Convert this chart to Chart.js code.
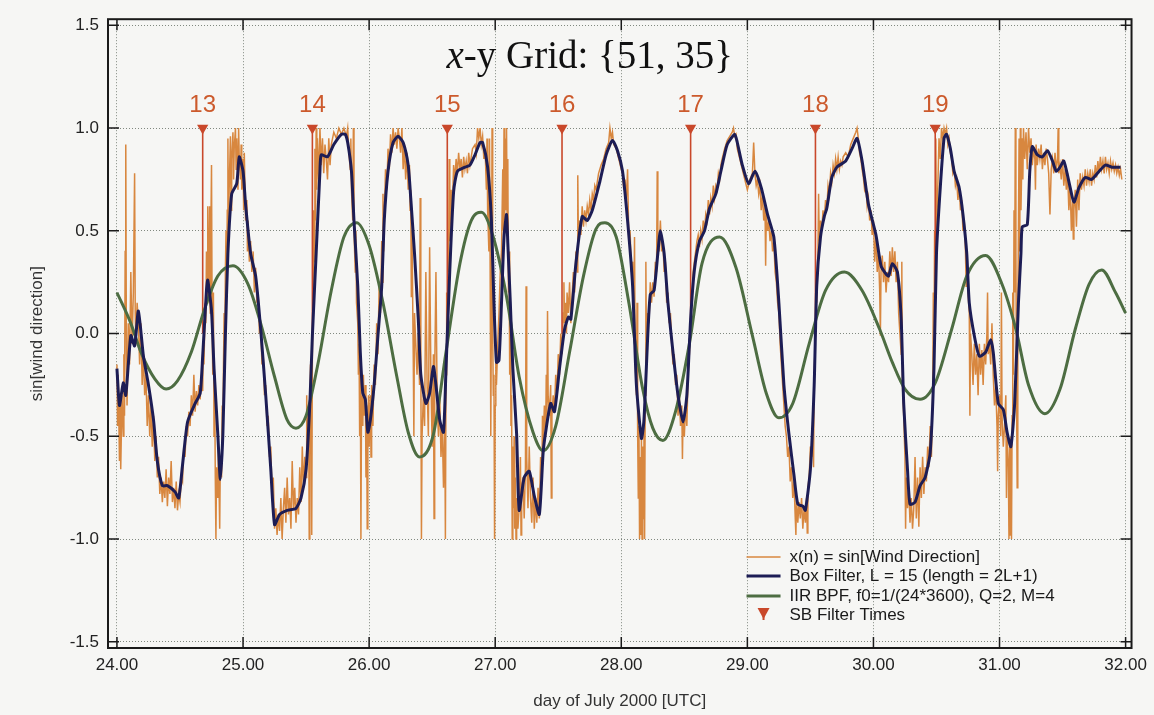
<!DOCTYPE html>
<html>
<head>
<meta charset="utf-8">
<script src="https://cdn.jsdelivr.net/npm/chart.js@4/dist/chart.umd.min.js"></script>
<style>
html, body { margin: 0; padding: 0; background: #f6f6f4; }
#wrap { width: 1154px; height: 715px; }
</style>
</head>
<body>
<div id="wrap"><canvas id="chart"></canvas></div>
<script>
// axis ticks
const xTicks = [24, 25, 26, 27, 28, 29, 30, 31, 32];
const yTicks = [-1.5, -1.0, -0.5, 0.0, 0.5, 1.0, 1.5];

// sea breeze filter times (day, label)
const sbTimes = [24.68, 25.55, 26.62, 27.53, 28.55, 29.54, 30.49];
const sbLabels = ['13', '14', '15', '16', '17', '18', '19'];

// x(n) = sin[wind direction]
const rawSignal = [
[24.00,-0.15],[24.005,-0.45],[24.01,-0.20],[24.02,-0.62],[24.025,-0.35],[24.03,-0.66],[24.04,-0.30],[24.05,-0.50],[24.055,-0.10],[24.06,-0.40],[24.065,0.40],[24.07,0.92],[24.075,-0.10],[24.08,-0.35],[24.09,0.05],[24.10,-0.15],[24.11,0.30],[24.12,-0.05],[24.13,0.20],[24.14,0.78],[24.145,0.10],[24.15,-0.05],[24.16,0.15],[24.17,0.05],[24.18,-0.15],[24.19,0.05],[24.20,-0.25],[24.21,-0.10],[24.22,-0.30],[24.23,-0.20],[24.24,-0.45],[24.25,-0.30],
[24.26,-0.50],[24.27,-0.35],[24.28,-0.55],[24.29,-0.40],[24.30,-0.62],[24.31,-0.50],[24.32,-0.70],[24.33,-0.60],[24.34,-0.78],[24.35,-0.70],[24.36,-0.82],[24.37,-0.72],[24.38,-0.80],[24.39,-0.66],[24.40,-0.84],[24.41,-0.70],[24.42,-0.78],[24.43,-0.62],[24.44,-0.82],[24.45,-0.75],[24.46,-0.85],[24.47,-0.72],[24.48,-0.86],[24.49,-0.78],[24.50,-0.82],[24.51,-0.70],[24.52,-0.72],[24.53,-0.55],[24.54,-0.60],[24.55,-0.45],[24.56,-0.50],[24.57,-0.38],[24.58,-0.45],[24.59,-0.30],[24.60,-0.40],[24.61,-0.20],[24.62,-0.38],[24.63,-0.28],[24.64,-0.35],[24.65,-0.25],[24.66,-0.32],[24.67,-0.20],[24.68,-0.28],[24.685,-0.05],[24.69,-0.15],[24.70,0.15],[24.705,0.05],[24.71,0.40],[24.715,0.15],[24.72,0.62],[24.725,0.20],[24.73,0.30],[24.735,0.62],[24.74,0.10],[24.745,0.50],[24.75,0.82],[24.755,0.05],[24.76,-0.20],[24.765,0.20],[24.77,-0.50],[24.775,-0.20],[24.78,-0.70],[24.785,-1.00],[24.79,-0.65],[24.80,-0.80],[24.805,-0.55],[24.81,-0.75],[24.815,-0.95],[24.82,-0.60],[24.83,-0.70],[24.835,-0.35],[24.84,-0.50],[24.845,-0.15],[24.85,0.10],[24.855,-0.05],[24.86,0.30],[24.865,0.50],[24.87,0.25],[24.875,0.60],[24.88,0.95],[24.885,0.45],[24.89,0.70],[24.90,0.96],[24.905,0.60],[24.91,0.85],[24.92,0.98],[24.925,0.75],[24.93,0.90],[24.94,1.00],[24.945,0.80],[24.95,0.95],[24.96,0.70],[24.965,1.00],[24.97,0.85],[24.98,0.75],[24.985,0.92],[24.99,0.70],[25.00,0.85],[25.005,0.60],[25.01,0.88],[25.02,0.55],[25.03,0.65],[25.035,0.40],[25.04,0.55],[25.05,0.35],[25.06,0.45],[25.07,0.30],[25.08,0.40],[25.09,0.20],[25.10,0.32],[25.11,0.15],[25.12,0.20],[25.13,0.00],[25.14,0.05],[25.15,-0.15],[25.16,-0.10],[25.17,-0.30],[25.18,-0.25],[25.19,-0.45],[25.20,-0.40],[25.21,-0.60],[25.22,-0.55],[25.23,-0.78],[25.24,-0.70],[25.25,-0.95],[25.26,-0.85],[25.27,-0.98],[25.28,-0.88],[25.29,-0.96],[25.30,-0.80],[25.31,-1.00],[25.32,-0.85],[25.33,-0.75],[25.34,-0.92],[25.35,-0.70],[25.36,-0.88],[25.37,-0.80],[25.38,-0.95],[25.39,-0.62],[25.40,-0.85],[25.41,-0.75],[25.42,-0.92],[25.43,-0.80],[25.44,-0.88],[25.45,-0.65],[25.46,-0.82],[25.47,-0.55],[25.48,-0.75],[25.49,-0.60],[25.50,-0.70],[25.505,-0.30],[25.51,-0.55],[25.52,-0.35],[25.525,-1.00],[25.53,-0.40],[25.535,-0.15],[25.54,-0.30],[25.545,-0.98],[25.55,-0.10],[25.555,0.20],[25.56,0.60],[25.565,0.35],[25.57,0.90],[25.575,0.55],[25.58,1.00],[25.585,0.70],[25.59,0.95],[25.60,0.75],[25.61,1.00],[25.62,0.82],[25.63,0.95],[25.64,0.78],[25.65,0.92],[25.66,0.85],[25.67,0.75],[25.68,0.95],[25.69,0.82],[25.70,0.92],[25.72,0.98],[25.74,0.95],[25.76,1.00],[25.78,0.97],[25.80,1.00],[25.82,0.96],[25.83,1.00],[25.84,0.88],[25.85,0.80],[25.855,0.95],[25.86,0.70],[25.87,0.55],[25.875,1.00],[25.88,0.50],[25.89,0.30],[25.895,0.50],[25.90,0.15],[25.91,0.05],[25.915,-0.20],[25.92,-0.05],[25.925,-0.50],[25.93,-0.15],[25.935,-1.00],[25.94,-0.30],[25.95,-0.45],[25.955,-0.20],[25.96,-0.40],[25.97,-0.25],[25.975,-0.70],[25.98,-0.35],[25.985,-0.95],[25.99,-0.50],[25.995,-0.30],[26.00,-0.55],[26.01,-0.30],[26.015,-0.60],[26.02,-0.25],[26.03,-0.45],[26.04,-0.15],[26.05,-0.25],[26.06,0.05],[26.07,-0.10],[26.08,0.25],[26.09,0.10],[26.10,0.45],[26.105,0.25],[26.11,0.68],[26.115,0.40],[26.12,0.55],[26.13,0.80],[26.14,0.70],[26.15,0.90],[26.16,0.80],[26.17,0.97],[26.18,0.88],[26.19,1.00],[26.20,0.92],[26.21,0.98],[26.22,0.90],[26.23,1.00],[26.24,0.95],[26.25,0.88],[26.26,1.00],[26.27,0.80],[26.28,0.92],[26.29,0.75],[26.30,0.88],[26.31,0.70],[26.32,0.82],[26.325,0.60],[26.33,0.70],[26.335,0.18],[26.34,0.50],[26.35,-0.10],[26.355,-0.50],[26.36,0.10],[26.37,-0.05],[26.38,-0.20],[26.39,0.00],[26.40,-0.25],[26.405,0.66],[26.41,-0.10],[26.415,-1.00],[26.42,-0.50],[26.43,-0.30],[26.44,-0.45],[26.45,0.30],[26.46,-0.25],[26.47,-0.50],[26.48,0.42],[26.49,-0.20],[26.50,-0.55],[26.51,-0.10],[26.515,-0.90],[26.52,-0.20],[26.53,0.30],[26.54,-0.35],[26.55,-0.50],[26.56,-0.30],[26.57,-0.60],[26.58,-0.45],[26.59,-0.75],[26.60,-0.40],[26.605,-1.00],[26.61,-0.20],[26.615,0.20],[26.62,0.05],[26.625,0.50],[26.63,0.30],[26.635,0.85],[26.64,0.45],[26.65,0.70],[26.66,0.60],[26.67,0.82],[26.68,0.75],[26.69,0.85],[26.70,0.78],[26.71,0.88],[26.72,0.80],[26.73,0.85],[26.74,0.76],[26.75,0.86],[26.76,0.80],[26.77,0.84],[26.78,0.78],[26.79,0.88],[26.80,0.82],[26.82,0.90],[26.84,0.92],[26.85,0.88],[26.86,1.00],[26.87,0.95],[26.88,1.00],[26.89,0.92],[26.90,0.96],[26.91,0.85],[26.92,0.90],[26.93,0.70],[26.935,0.95],[26.94,0.60],[26.95,0.40],[26.955,0.95],[26.96,0.30],[26.965,-0.50],[26.97,0.10],[26.975,1.00],[26.98,0.00],[26.985,-0.30],[26.99,-0.20],[26.995,-1.00],[27.00,-0.35],[27.005,-0.10],[27.01,-0.25],[27.02,-0.05],[27.03,0.10],[27.04,0.30],[27.05,0.40],[27.06,0.80],[27.065,0.50],[27.07,1.00],[27.075,0.55],[27.08,0.95],[27.085,0.60],[27.09,1.00],[27.095,0.50],[27.10,0.85],[27.105,0.20],[27.11,0.40],[27.115,-0.20],[27.12,0.10],[27.125,-0.45],[27.13,-0.30],[27.135,-1.00],[27.14,-0.55],[27.145,-0.85],[27.15,-0.50],[27.155,-0.95],[27.16,-0.70],[27.165,-1.00],[27.17,-0.80],[27.18,-0.95],[27.19,-0.85],[27.20,-0.60],[27.205,-0.98],[27.21,-0.75],[27.22,-0.70],[27.23,-0.90],[27.24,-0.65],[27.245,0.23],[27.25,-0.60],[27.26,-0.85],[27.27,-0.55],[27.28,-0.80],[27.29,-0.92],[27.30,-0.70],[27.31,-0.95],[27.32,-0.80],[27.33,-0.92],[27.34,-0.75],[27.35,-0.90],[27.36,-0.60],[27.37,-0.70],[27.375,-0.40],[27.38,-0.55],[27.39,-0.35],[27.40,-0.50],[27.405,-0.20],[27.41,-0.45],[27.415,0.11],[27.42,-0.30],[27.43,-0.40],[27.44,-0.25],[27.445,-0.80],[27.45,-0.40],[27.46,-0.30],[27.47,-0.38],[27.48,-0.20],[27.49,-0.30],[27.50,-0.10],[27.51,-0.20],[27.52,0.00],[27.53,-0.10],[27.54,0.10],[27.545,0.25],[27.55,0.05],[27.56,0.15],[27.565,0.00],[27.57,0.20],[27.58,0.10],[27.59,0.25],[27.60,0.05],[27.61,0.18],[27.62,0.30],[27.63,0.20],[27.64,0.40],[27.65,0.30],[27.655,0.77],[27.66,0.45],[27.67,0.55],[27.68,0.48],[27.69,0.62],[27.70,0.52],[27.71,0.60],[27.72,0.55],[27.73,0.62],[27.74,0.58],[27.75,0.65],[27.76,0.60],[27.77,0.68],[27.78,0.65],[27.79,0.72],[27.80,0.70],[27.82,0.78],[27.84,0.82],[27.86,0.85],[27.88,0.90],[27.90,0.93],[27.91,1.00],[27.92,0.95],[27.93,0.98],[27.94,0.92],[27.96,0.90],[27.98,0.85],[28.00,0.80],[28.01,0.78],[28.02,0.70],[28.03,0.75],[28.04,0.65],[28.05,0.80],[28.06,0.45],[28.07,0.50],[28.08,0.30],[28.09,0.35],[28.10,0.10],[28.105,0.47],[28.11,-0.10],[28.12,-0.30],[28.125,0.15],[28.13,-0.50],[28.135,-0.80],[28.14,-0.45],[28.145,-1.00],[28.15,-0.60],[28.155,-0.98],[28.16,-0.50],[28.165,-1.00],[28.17,-0.55],[28.175,-0.90],[28.18,-0.40],[28.185,-1.00],[28.19,-0.30],[28.195,0.35],[28.20,-0.10],[28.21,0.10],[28.22,0.05],[28.23,0.25],[28.24,0.15],[28.25,0.25],[28.26,0.18],[28.27,0.35],[28.28,0.30],[28.285,0.79],[28.29,0.45],[28.30,0.40],[28.31,0.55],[28.32,0.40],[28.33,0.45],[28.34,0.30],[28.35,0.35],[28.36,0.15],[28.37,0.20],[28.38,0.05],[28.39,0.10],[28.40,-0.05],[28.41,-0.15],[28.42,-0.10],[28.43,-0.25],[28.44,-0.20],[28.45,-0.40],[28.46,-0.30],[28.47,-0.45],[28.48,-0.35],[28.485,-0.61],[28.49,-0.40],[28.50,-0.50],[28.51,-0.35],[28.52,-0.45],[28.53,-0.20],[28.54,-0.10],[28.55,0.05],[28.56,0.15],[28.57,0.30],[28.58,0.35],[28.59,0.40],[28.60,0.45],[28.61,0.48],[28.62,0.42],[28.63,0.50],[28.64,0.46],[28.65,0.55],[28.66,0.50],[28.67,0.58],[28.68,0.55],[28.69,0.65],[28.70,0.58],[28.71,0.66],[28.72,0.62],[28.73,0.72],[28.74,0.66],[28.75,0.72],[28.76,0.70],[28.77,0.78],[28.78,0.75],[28.79,0.82],[28.80,0.85],[28.82,0.90],[28.84,0.94],[28.86,0.96],[28.88,0.98],[28.89,1.00],[28.90,0.96],[28.91,0.97],[28.92,0.90],[28.94,0.85],[28.96,0.80],[28.98,0.75],[29.00,0.70],[29.02,0.75],[29.04,0.78],[29.05,0.93],[29.06,0.78],[29.07,0.72],[29.08,0.75],[29.09,0.68],[29.10,0.72],[29.11,0.60],[29.12,0.68],[29.13,0.55],[29.14,0.62],[29.145,0.33],[29.15,0.58],[29.16,0.50],[29.17,0.55],[29.18,0.45],[29.19,0.50],[29.20,0.40],[29.21,0.45],[29.22,0.30],[29.23,0.25],[29.24,0.15],[29.25,0.10],[29.26,-0.05],[29.27,-0.15],[29.28,-0.25],[29.29,-0.35],[29.30,-0.45],[29.31,-0.50],[29.32,-0.60],[29.33,-0.55],[29.34,-0.72],[29.35,-0.65],[29.36,-0.80],[29.37,-0.72],[29.38,-0.90],[29.385,-0.98],[29.39,-0.80],[29.40,-0.92],[29.41,-0.82],[29.42,-0.90],[29.43,-0.80],[29.44,-0.95],[29.45,-0.85],[29.46,-0.92],[29.47,-0.80],[29.475,-0.97],[29.48,-0.75],[29.49,-0.70],[29.50,-0.55],[29.51,-0.60],[29.52,-0.40],[29.525,-0.65],[29.53,-0.20],[29.54,0.00],[29.545,0.30],[29.55,0.15],[29.56,0.40],[29.565,0.68],[29.57,0.45],[29.58,0.55],[29.59,0.50],[29.60,0.60],[29.61,0.55],[29.62,0.65],[29.63,0.60],[29.64,0.72],[29.65,0.68],[29.66,0.78],[29.67,0.74],[29.68,0.82],[29.69,0.78],[29.70,0.85],[29.71,0.80],[29.72,0.86],[29.73,0.80],[29.74,0.84],[29.75,0.82],[29.76,0.86],[29.78,0.88],[29.80,0.86],[29.82,0.92],[29.84,0.95],[29.86,0.98],[29.87,1.00],[29.88,0.95],[29.89,0.88],[29.90,0.85],[29.91,0.80],[29.92,0.76],[29.93,0.70],[29.94,0.72],[29.95,0.62],[29.96,0.66],[29.97,0.55],[29.98,0.60],[29.99,0.48],[30.00,0.55],[30.01,0.35],[30.02,0.48],[30.03,0.30],[30.04,0.40],[30.05,0.20],[30.055,-0.01],[30.06,0.30],[30.07,0.38],[30.08,0.25],[30.09,0.35],[30.10,0.20],[30.11,0.30],[30.12,0.25],[30.13,0.40],[30.14,0.28],[30.15,0.42],[30.16,0.30],[30.17,0.40],[30.18,0.25],[30.19,0.35],[30.20,0.10],[30.21,0.00],[30.22,-0.10],[30.225,0.35],[30.23,-0.25],[30.24,-0.40],[30.25,-0.60],[30.255,-0.95],[30.26,-0.70],[30.27,-0.85],[30.28,-0.75],[30.29,-0.92],[30.30,-0.80],[30.31,-0.95],[30.32,-0.85],[30.33,-0.60],[30.34,-0.90],[30.35,-0.70],[30.36,-0.94],[30.37,-0.65],[30.38,-0.80],[30.39,-0.60],[30.40,-0.78],[30.41,-0.65],[30.42,-0.72],[30.43,-0.55],[30.44,-0.65],[30.45,-0.45],[30.46,-0.60],[30.47,-0.30],[30.475,0.20],[30.48,-0.10],[30.485,0.50],[30.49,0.20],[30.495,0.95],[30.50,0.50],[30.51,0.70],[30.52,0.95],[30.53,0.85],[30.54,1.00],[30.55,0.95],[30.56,1.00],[30.57,0.97],[30.58,1.00],[30.59,0.92],[30.60,0.95],[30.61,0.88],[30.62,0.85],[30.63,0.78],[30.64,0.80],[30.65,0.72],[30.66,0.75],[30.67,0.65],[30.68,0.72],[30.69,0.60],[30.70,0.65],[30.71,0.50],[30.72,0.55],[30.73,0.40],[30.735,0.23],[30.74,0.35],[30.75,0.20],[30.76,0.10],[30.765,-0.40],[30.77,0.00],[30.78,-0.10],[30.79,-0.25],[30.80,-0.05],[30.81,-0.20],[30.82,-0.10],[30.83,-0.30],[30.84,-0.05],[30.85,-0.20],[30.86,-0.08],[30.87,-0.25],[30.88,-0.05],[30.89,-0.15],[30.90,0.00],[30.905,0.20],[30.91,-0.10],[30.92,-0.05],[30.93,-0.15],[30.94,0.05],[30.95,-0.20],[30.96,-0.35],[30.97,-0.25],[30.98,-0.45],[30.985,-0.67],[30.99,-0.40],[31.00,-0.30],[31.01,-0.50],[31.015,0.20],[31.02,-0.40],[31.03,-0.55],[31.04,-0.45],[31.05,-0.30],[31.055,-0.80],[31.06,-0.50],[31.07,-0.65],[31.075,-1.00],[31.08,-0.55],[31.085,-0.98],[31.09,-0.50],[31.095,-1.00],[31.10,-0.40],[31.105,0.20],[31.11,-0.20],[31.115,0.60],[31.12,0.20],[31.125,1.00],[31.13,0.40],[31.135,-0.30],[31.14,-0.75],[31.145,0.10],[31.15,0.50],[31.155,0.95],[31.16,0.40],[31.165,1.00],[31.17,0.60],[31.18,0.95],[31.185,0.75],[31.19,1.00],[31.20,0.85],[31.21,0.98],[31.22,0.80],[31.23,1.00],[31.24,0.88],[31.25,0.95],[31.26,0.82],[31.27,0.90],[31.28,0.85],[31.285,0.70],[31.29,0.92],[31.30,0.82],[31.31,0.90],[31.32,0.85],[31.33,0.92],[31.34,0.80],[31.35,0.88],[31.36,0.82],[31.37,0.90],[31.38,0.85],[31.39,0.78],[31.40,0.58],[31.41,0.80],[31.42,0.85],[31.43,0.78],[31.44,0.88],[31.45,0.80],[31.46,0.85],[31.465,1.00],[31.47,0.78],[31.48,0.82],[31.49,0.75],[31.50,0.85],[31.51,0.72],[31.52,0.80],[31.53,0.70],[31.54,0.78],[31.55,0.60],[31.56,0.72],[31.57,0.50],[31.58,0.65],[31.585,0.46],[31.59,0.60],[31.60,0.70],[31.61,0.52],[31.62,0.75],[31.63,0.60],[31.64,0.78],[31.65,0.70],[31.66,0.76],[31.67,0.72],[31.68,0.80],[31.69,0.72],[31.70,0.78],[31.71,0.74],[31.72,0.80],[31.73,0.72],[31.74,0.78],[31.75,0.75],[31.76,0.82],[31.77,0.76],[31.78,0.84],[31.79,0.78],[31.80,0.86],[31.81,0.80],[31.82,0.84],[31.83,0.78],[31.84,0.86],[31.85,0.80],[31.86,0.83],[31.87,0.78],[31.88,0.84],[31.89,0.80],[31.90,0.83],[31.91,0.79],[31.92,0.82],[31.93,0.78],[31.94,0.81],[31.95,0.77],[31.96,0.80],[31.97,0.75]
];

// box filter, L = 15
const boxFilter = [
[24.00,-0.17],[24.02,-0.35],[24.05,-0.24],[24.07,-0.30],[24.11,-0.01],[24.14,-0.06],[24.17,0.11],[24.21,-0.11],[24.25,-0.25],[24.29,-0.42],[24.32,-0.62],[24.36,-0.74],[24.40,-0.74],[24.46,-0.77],[24.49,-0.80],[24.52,-0.64],[24.56,-0.43],[24.62,-0.34],[24.66,-0.29],[24.68,-0.11],[24.71,0.21],[24.72,0.26],[24.75,0.11],[24.77,-0.17],[24.80,-0.49],[24.82,-0.71],[24.84,-0.49],[24.86,-0.01],[24.88,0.39],[24.91,0.68],[24.95,0.73],[24.97,0.86],[25.00,0.79],[25.02,0.63],[25.06,0.39],[25.10,0.28],[25.14,0.02],[25.18,-0.30],[25.22,-0.66],[25.25,-0.93],[25.29,-0.88],[25.35,-0.86],[25.42,-0.85],[25.46,-0.80],[25.50,-0.66],[25.53,-0.34],[25.55,-0.01],[25.58,0.39],[25.61,0.79],[25.62,0.87],[25.67,0.86],[25.72,0.92],[25.78,0.97],[25.81,0.97],[25.83,0.93],[25.86,0.79],[25.88,0.55],[25.91,0.23],[25.93,-0.09],[25.95,-0.29],[25.97,-0.32],[25.99,-0.48],
[26.01,-0.42],[26.04,-0.25],[26.07,-0.01],[26.10,0.23],[26.12,0.55],[26.15,0.79],[26.19,0.93],[26.23,0.96],[26.27,0.93],[26.31,0.82],[26.33,0.66],[26.36,0.39],[26.39,0.07],[26.41,-0.20],[26.45,-0.34],[26.48,-0.29],[26.51,-0.16],[26.53,-0.25],[26.56,-0.42],[26.59,-0.48],[26.61,-0.17],[26.64,0.31],[26.67,0.69],[26.70,0.79],[26.76,0.81],[26.80,0.82],[26.84,0.87],[26.88,0.93],[26.90,0.93],[26.94,0.81],[26.97,0.55],[26.99,0.15],[27.01,-0.14],[27.03,-0.13],[27.05,0.15],[27.07,0.47],[27.09,0.58],[27.10,0.44],[27.12,0.15],[27.14,-0.17],[27.17,-0.49],[27.19,-0.86],[27.23,-0.70],[27.27,-0.67],[27.31,-0.79],[27.35,-0.88],[27.38,-0.58],[27.40,-0.48],[27.44,-0.34],[27.47,-0.38],[27.51,-0.17],[27.55,0.02],[27.58,0.08],[27.60,0.07],[27.64,0.34],[27.69,0.57],[27.73,0.55],[27.77,0.60],[27.83,0.74],[27.88,0.87],[27.93,0.94],[27.97,0.89],[28.01,0.79],[28.05,0.55],[28.09,0.23],[28.12,-0.25],[28.16,-0.51],[28.18,-0.42],[28.21,-0.01],[28.23,0.19],[28.26,0.21],[28.29,0.39],[28.31,0.50],[28.34,0.39],[28.37,0.15],[28.41,-0.09],[28.45,-0.30],[28.49,-0.43],[28.52,-0.30],[28.55,0.07],[28.58,0.31],[28.62,0.45],[28.66,0.50],[28.70,0.61],[28.75,0.68],[28.79,0.79],[28.84,0.92],[28.90,0.97],[28.92,0.93],[28.96,0.82],[29.01,0.73],[29.06,0.79],[29.11,0.71],[29.16,0.58],[29.21,0.47],[29.25,0.15],[29.29,-0.25],[29.33,-0.49],[29.37,-0.69],[29.40,-0.83],[29.44,-0.84],[29.46,-0.86],[29.50,-0.66],[29.53,-0.25],[29.55,0.23],[29.58,0.47],[29.61,0.57],[29.63,0.61],[29.67,0.76],[29.71,0.81],[29.78,0.84],[29.83,0.90],[29.87,0.95],[29.91,0.84],[29.96,0.63],[30.02,0.48],[30.06,0.33],[30.10,0.29],[30.12,0.28],[30.15,0.34],[30.19,0.30],[30.22,0.07],[30.24,-0.34],[30.27,-0.66],[30.29,-0.83],[30.33,-0.82],[30.37,-0.74],[30.41,-0.70],[30.45,-0.58],[30.48,-0.17],[30.50,0.39],[30.53,0.71],[30.56,0.95],[30.58,0.97],[30.61,0.90],[30.64,0.79],[30.68,0.71],[30.71,0.58],[30.74,0.39],[30.76,0.15],[30.80,-0.01],[30.84,-0.11],[30.89,-0.09],[30.93,-0.03],[30.95,-0.09],[30.99,-0.34],[31.03,-0.37],[31.06,-0.48],[31.09,-0.55],[31.12,-0.34],[31.15,0.15],[31.17,0.39],[31.18,0.52],[31.22,0.53],[31.24,0.79],[31.26,0.91],[31.30,0.87],[31.34,0.86],[31.38,0.89],[31.42,0.84],[31.45,0.79],[31.48,0.81],[31.51,0.84],[31.55,0.74],[31.59,0.64],[31.63,0.71],[31.68,0.76],[31.73,0.75],[31.79,0.79],[31.84,0.82],[31.89,0.81],[31.96,0.81]
];

// IIR band pass filter, f0 = 1/(24*3600)
const iirBpf = [
[24.00,0.20],[24.11,0.05],[24.19,-0.09],[24.30,-0.22],[24.39,-0.27],[24.48,-0.23],[24.59,-0.09],[24.69,0.11],[24.80,0.28],[24.92,0.33],[25.04,0.24],[25.14,0.05],[25.25,-0.21],[25.35,-0.42],[25.42,-0.46],[25.50,-0.40],[25.59,-0.16],[25.70,0.21],[25.80,0.47],[25.90,0.54],[26.00,0.43],[26.11,0.15],[26.22,-0.21],[26.31,-0.48],[26.40,-0.60],[26.51,-0.49],[26.61,-0.09],[26.72,0.34],[26.81,0.55],[26.89,0.59],[26.98,0.48],[27.09,0.18],[27.19,-0.21],[27.30,-0.48],[27.38,-0.57],[27.48,-0.45],[27.59,-0.09],[27.70,0.28],[27.80,0.51],[27.87,0.54],[27.96,0.47],[28.06,0.15],[28.17,-0.27],[28.25,-0.46],[28.33,-0.52],[28.43,-0.38],[28.54,-0.05],[28.64,0.34],[28.78,0.47],[28.91,0.32],[29.04,-0.01],[29.15,-0.29],[29.25,-0.41],[29.36,-0.34],[29.49,-0.05],[29.62,0.21],[29.77,0.30],[29.91,0.21],[30.05,0.02],[30.15,-0.14],[30.25,-0.27],[30.37,-0.32],[30.49,-0.24],[30.62,0.02],[30.74,0.28],[30.89,0.38],[31.02,0.24],[31.13,0.02],[31.23,-0.25],[31.36,-0.39],[31.48,-0.27],[31.60,0.02],[31.71,0.24],[31.81,0.31],[31.92,0.20],[32.00,0.10]
];

const legendLabels = [
  'x(n) = sin[Wind Direction]',
  'Box Filter, L = 15 (length = 2L+1)',
  'IIR BPF, f0=1/(24*3600), Q=2, M=4',
  'SB Filter Times'
];

const orange = '#d8873f';
const navy = '#1d1d55';
const green = '#4d6d42';
const red = '#c9482a';

const toPts = arr => arr.map(p => ({x: p[0], y: p[1]}));
const stems = sbTimes.flatMap(t => [{x: t, y: 0}, {x: t, y: 1}, {x: t, y: null}]);
const markers = sbTimes.map(t => ({x: t, y: 1}));

// title, stem labels, legend, frame with inward ticks
const decor = {
  id: 'decor',
  afterDraw(chart) {
    const {ctx, chartArea: a, scales: {x, y}} = chart;
    ctx.save();

    ctx.strokeStyle = '#1a1a1a';
    ctx.lineWidth = 2;
    ctx.strokeRect(a.left, a.top, a.right - a.left, a.bottom - a.top);
    ctx.lineWidth = 1.5;
    ctx.beginPath();
    xTicks.forEach(v => {
      const px = x.getPixelForValue(v);
      ctx.moveTo(px, a.bottom); ctx.lineTo(px, a.bottom - 11);
      ctx.moveTo(px, a.top); ctx.lineTo(px, a.top + 11);
    });
    yTicks.forEach(v => {
      const py = y.getPixelForValue(v);
      ctx.moveTo(a.left, py); ctx.lineTo(a.left + 11, py);
      ctx.moveTo(a.right, py); ctx.lineTo(a.right - 11, py);
    });
    ctx.stroke();

    // title
    const t1 = 'x', t2 = '-y Grid: {51, 35}';
    ctx.fillStyle = '#111';
    ctx.textBaseline = 'alphabetic';
    ctx.textAlign = 'left';
    ctx.font = 'italic 39px "Liberation Serif"';
    const w1 = ctx.measureText(t1).width;
    ctx.font = '39px "Liberation Serif"';
    const w2 = ctx.measureText(t2).width;
    const cx = x.getPixelForValue(27.75);
    const by = y.getPixelForValue(1.294);
    ctx.font = 'italic 39px "Liberation Serif"';
    ctx.fillText(t1, cx - (w1 + w2) / 2, by);
    ctx.font = '39px "Liberation Serif"';
    ctx.fillText(t2, cx - (w1 + w2) / 2 + w1, by);

    // stem labels
    ctx.fillStyle = '#cc5a2c';
    ctx.font = '24px "Liberation Sans"';
    ctx.textAlign = 'center';
    ctx.textBaseline = 'middle';
    sbTimes.forEach((t, i) => {
      ctx.fillText(sbLabels[i], x.getPixelForValue(t), y.getPixelForValue(1.11));
    });

    // legend
    const lx = a.right - 385, tx = a.right - 342;
    const rows = [a.bottom - 91, a.bottom - 72, a.bottom - 52, a.bottom - 33];
    ctx.lineCap = 'butt';
    ctx.strokeStyle = orange; ctx.lineWidth = 1.5;
    ctx.beginPath(); ctx.moveTo(lx, rows[0]); ctx.lineTo(lx + 34, rows[0]); ctx.stroke();
    ctx.strokeStyle = navy; ctx.lineWidth = 3;
    ctx.beginPath(); ctx.moveTo(lx, rows[1]); ctx.lineTo(lx + 34, rows[1]); ctx.stroke();
    ctx.strokeStyle = green; ctx.lineWidth = 3;
    ctx.beginPath(); ctx.moveTo(lx, rows[2]); ctx.lineTo(lx + 34, rows[2]); ctx.stroke();
    ctx.fillStyle = red;
    ctx.beginPath();
    ctx.moveTo(lx + 11, rows[3] - 7); ctx.lineTo(lx + 23, rows[3] - 7); ctx.lineTo(lx + 17, rows[3] + 4);
    ctx.closePath(); ctx.fill();
    ctx.fillRect(lx + 16, rows[3], 2, 5);

    ctx.fillStyle = '#1a1a1a';
    ctx.font = '17px "Liberation Sans"';
    ctx.textAlign = 'left';
    legendLabels.forEach((s, i) => ctx.fillText(s, tx, rows[i]));
    ctx.restore();
  }
};

const gridColor = 'rgba(90, 100, 90, 0.75)';

new Chart(document.getElementById('chart'), {
  type: 'line',
  data: {
    datasets: [
      {data: toPts(boxFilter), borderColor: navy, borderWidth: 3, pointRadius: 0, tension: 0.2, order: 0},
      {data: toPts(iirBpf), borderColor: green, borderWidth: 3, pointRadius: 0, cubicInterpolationMode: 'monotone', order: 1},
      {data: markers, showLine: false, pointStyle: 'triangle', rotation: 180, pointRadius: 6.5,
       backgroundColor: red, borderColor: red, borderWidth: 0, order: 2},
      {data: stems, borderColor: red, borderWidth: 1.6, pointRadius: 0, spanGaps: false, order: 3},
      {data: toPts(rawSignal), borderColor: orange, borderWidth: 1.5, pointRadius: 0, tension: 0, order: 4}
    ]
  },
  options: {
    responsive: true,
    maintainAspectRatio: false,
    devicePixelRatio: 1,
    animation: false,
    layout: {padding: {left: 0, top: 13, right: 21, bottom: 0}},
    plugins: {legend: {display: false}, tooltip: {enabled: false}},
    scales: {
      x: {
        type: 'linear',
        min: 23.929,
        max: 32.047,
        afterBuildTicks: s => { s.ticks = xTicks.map(v => ({value: v})); },
        afterFit: s => { s.height = 67; },
        ticks: {callback: v => v.toFixed(2), font: {family: 'Liberation Sans', size: 17}, color: '#222', padding: 7, maxRotation: 0, autoSkip: false},
        grid: {color: gridColor, lineWidth: 1, drawTicks: false},
        border: {display: false, dash: [1, 2]},
        title: {display: true, text: 'day of July 2000 [UTC]', font: {family: 'Liberation Sans', size: 17}, color: '#333', padding: {top: 0, bottom: 3}}
      },
      y: {
        type: 'linear',
        min: -1.53,
        max: 1.53,
        afterBuildTicks: s => { s.ticks = yTicks.map(v => ({value: v})); },
        afterFit: s => { s.width = 108; },
        ticks: {callback: v => v.toFixed(1), font: {family: 'Liberation Sans', size: 17}, color: '#222', padding: 9, autoSkip: false},
        grid: {color: gridColor, lineWidth: 1, drawTicks: false},
        border: {display: false, dash: [1, 2]},
        title: {display: true, text: 'sin[wind direction]', font: {family: 'Liberation Sans', size: 17}, color: '#333', padding: {top: 27, bottom: 0}}
      }
    }
  },
  plugins: [decor]
});
</script>
</body>
</html>
